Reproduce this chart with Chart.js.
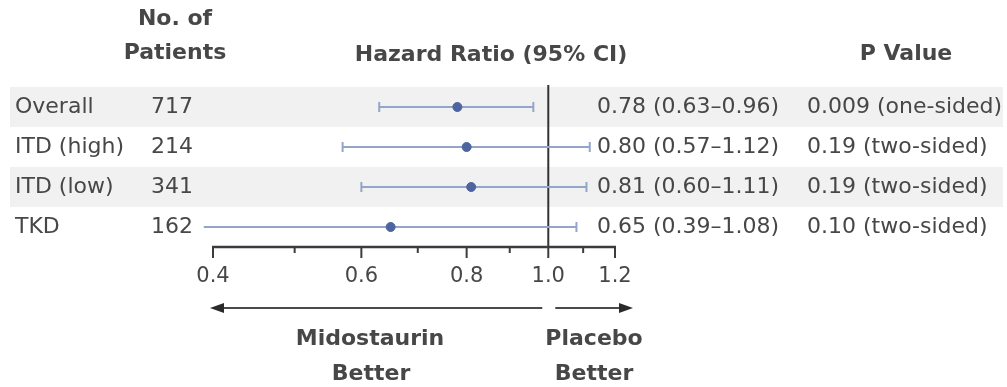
<!DOCTYPE html>
<html>
<head>
<meta charset="utf-8">
<script src="https://cdn.jsdelivr.net/npm/chart.js@4/dist/chart.umd.min.js"></script>
<style>
  html, body { margin: 0; padding: 0; background: #ffffff; }
  #wrap { width: 1007px; height: 387px; position: relative; }
</style>
</head>
<body>
<div id="wrap"><canvas id="c" width="1007" height="387"></canvas></div>
<script>
// ---- data ----
const categories = ['Overall', 'ITD (high)', 'ITD (low)', 'TKD'];
const patients = [717, 214, 341, 162];
const hazardRatio = [0.78, 0.80, 0.81, 0.65];
const ciLow = [0.63, 0.57, 0.60, 0.39];
const ciHigh = [0.96, 1.12, 1.11, 1.08];
const pValues = ['0.009 (one-sided)', '0.19 (two-sided)', '0.19 (two-sided)', '0.10 (two-sided)'];
const majorTicks = [0.4, 0.6, 0.8, 1.0, 1.2];
const majorTickLabels = ['0.4', '0.6', '0.8', '1.0', '1.2'];
const minorTicks = [0.5, 0.7, 0.9, 1.1];

const FONT = '"DejaVu Sans", "Liberation Sans", sans-serif';
const TEXT = '#474747';
const CI_COLOR = '#93a5c9';
const DOT_COLOR = '#4d64a0';

const ciDatasets = categories.map((c, i) => ({
  type: 'scatter',
  label: c + ' CI',
  data: [{x: ciLow[i], y: i}, {x: ciHigh[i], y: i}],
  showLine: true,
  borderColor: CI_COLOR,
  borderWidth: 2,
  pointStyle: 'line',
  rotation: 90,
  pointRadius: 5,
  pointBorderWidth: 2,
  pointBorderColor: CI_COLOR,
  clip: false,
  order: 2
}));

const pointDataset = {
  type: 'scatter',
  label: 'Hazard ratio',
  data: hazardRatio.map((v, i) => ({x: v, y: i})),
  pointStyle: 'circle',
  pointRadius: 4.5,
  backgroundColor: DOT_COLOR,
  borderColor: DOT_COLOR,
  clip: false,
  order: 1
};

const forestPlugin = {
  id: 'forest',
  beforeDatasetsDraw(chart) {
    const {ctx, chartArea, scales: {x, y}} = chart;
    ctx.save();
    categories.forEach((c, i) => {
      if (i % 2 === 0) {
        const top = y.getPixelForValue(i - 0.5);
        const bot = y.getPixelForValue(i + 0.5);
        ctx.fillStyle = '#f1f1f1';
        ctx.fillRect(10, top, 993, bot - top);
      }
    });
    const x1 = x.getPixelForValue(1.0);
    ctx.strokeStyle = '#333333';
    ctx.lineWidth = 2;
    ctx.beginPath();
    ctx.moveTo(x1, chartArea.top - 2);
    ctx.lineTo(x1, chartArea.bottom);
    ctx.stroke();
    ctx.restore();
  },
  afterDraw(chart) {
    const {ctx, chartArea, scales: {x, y}} = chart;
    ctx.save();
    ctx.fillStyle = TEXT;
    ctx.textBaseline = 'middle';

    ctx.font = 'bold 22px ' + FONT;
    ctx.textAlign = 'center';
    ctx.fillText('No. of', 175, 19);
    ctx.fillText('Patients', 175, 53);
    ctx.fillText('Hazard Ratio (95% CI)', 491, 55);
    ctx.fillText('P Value', 906, 54);

    ctx.font = '22px ' + FONT;
    categories.forEach((c, i) => {
      const py = y.getPixelForValue(i);
      ctx.textAlign = 'left';
      ctx.fillText(c, 15, py);
      ctx.textAlign = 'right';
      ctx.fillText(String(patients[i]), 193, py);
      ctx.textAlign = 'left';
      const hrText = hazardRatio[i].toFixed(2) + ' (' + ciLow[i].toFixed(2) + '\u2013' + ciHigh[i].toFixed(2) + ')';
      ctx.fillText(hrText, 597, py);
      ctx.fillText(pValues[i], 807, py);
    });

    const axY = chartArea.bottom;
    ctx.strokeStyle = '#3c3c3c';
    ctx.lineWidth = 2.5;
    ctx.beginPath();
    ctx.moveTo(x.getPixelForValue(0.4) - 1, axY);
    ctx.lineTo(x.getPixelForValue(1.2) + 1, axY);
    ctx.stroke();
    ctx.lineWidth = 2;
    majorTicks.forEach(v => {
      const px = x.getPixelForValue(v);
      ctx.beginPath();
      ctx.moveTo(px, axY);
      ctx.lineTo(px, axY + 11);
      ctx.stroke();
    });
    minorTicks.forEach(v => {
      const px = x.getPixelForValue(v);
      ctx.beginPath();
      ctx.moveTo(px, axY);
      ctx.lineTo(px, axY + 6);
      ctx.stroke();
    });
    ctx.font = '21px ' + FONT;
    ctx.textAlign = 'center';
    majorTicks.forEach((v, k) => {
      ctx.fillText(majorTickLabels[k], x.getPixelForValue(v), 277);
    });

    const arrowY = 308;
    const x10 = x.getPixelForValue(1.0);
    const leftTip = x.getPixelForValue(0.4) - 3;
    const rightTip = x.getPixelForValue(1.2) + 18;
    ctx.strokeStyle = '#4a4a4a';
    ctx.fillStyle = '#2a2a2a';
    ctx.lineWidth = 2;
    ctx.beginPath();
    ctx.moveTo(x10 - 6, arrowY);
    ctx.lineTo(leftTip + 8, arrowY);
    ctx.stroke();
    ctx.beginPath();
    ctx.moveTo(leftTip, arrowY);
    ctx.lineTo(leftTip + 14, arrowY - 5);
    ctx.lineTo(leftTip + 14, arrowY + 5);
    ctx.closePath();
    ctx.fill();
    ctx.beginPath();
    ctx.moveTo(x10 + 7, arrowY);
    ctx.lineTo(rightTip - 8, arrowY);
    ctx.stroke();
    ctx.beginPath();
    ctx.moveTo(rightTip, arrowY);
    ctx.lineTo(rightTip - 14, arrowY - 5);
    ctx.lineTo(rightTip - 14, arrowY + 5);
    ctx.closePath();
    ctx.fill();

    ctx.fillStyle = TEXT;
    ctx.font = 'bold 22px ' + FONT;
    ctx.textAlign = 'center';
    ctx.fillText('Midostaurin', 370, 339);
    ctx.fillText('Better', 371, 374);
    ctx.fillText('Placebo', 594, 339);
    ctx.fillText('Better', 594, 374);
    ctx.restore();
  }
};

new Chart(document.getElementById('c'), {
  type: 'scatter',
  data: { datasets: [...ciDatasets, pointDataset] },
  options: {
    responsive: false,
    animation: false,
    events: [],
    layout: { padding: { left: 213, right: 392, top: 87, bottom: 140 } },
    plugins: { legend: { display: false }, tooltip: { enabled: false } },
    scales: {
      x: { type: 'logarithmic', min: 0.4, max: 1.2, display: false },
      y: { type: 'linear', min: -0.5, max: 3.5, reverse: true, display: false }
    }
  },
  plugins: [forestPlugin]
});
</script>
</body>
</html>
